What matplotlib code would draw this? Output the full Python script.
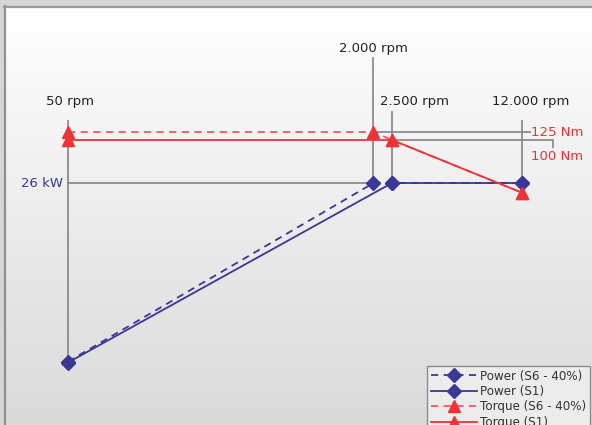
import matplotlib
matplotlib.use("Agg")
import matplotlib.pyplot as plt
import numpy as np

# ---- data ----
rpm_s6 = [50, 2000, 2500, 12000]
power_s6 = [0.65, 26, 26, 26]          # kW
torque_s6 = [125, 125, 100, 23]        # Nm
rpm_s1 = [50, 2500, 12000]
power_s1 = [0.52, 26, 26]              # kW
torque_s1 = [100, 100, 23]             # Nm
rpm_marks = [50, 2000, 2500, 12000]
rpm_labels = ["50 rpm", "2.000 rpm", "2.500 rpm", "12.000 rpm"]
legend_labels = ["Power (S6 - 40%)", "Power (S1)", "Torque (S6 - 40%)", "Torque (S1)"]
power_ref = 26
torque_refs = [125, 100]

NAVY = "#383896"
RED = "#ee3236"
RED_L = "#f05a5e"
GREY = "#8c8c8c"
FONT = "DejaVu Sans"

W, H = 592, 425
fig = plt.figure(figsize=(W / 100, H / 100), dpi=100, facecolor="#d6d6d6")

# background panel (decoration)
bg = fig.add_axes([0, 0, 1, 1], zorder=-5)
bg.set_xlim(0, W); bg.set_ylim(H, 0); bg.axis("off")
grad = np.linspace(1.0, 0.855, 256)[:, None]
bg.imshow(np.dstack([grad, grad, grad]), extent=[5, W, H, 7], aspect="auto",
          interpolation="bicubic")
bg.plot([4.5, 4.5], [6, H], color="#8f8f8f", lw=1.6)
bg.plot([4, W], [6.5, 6.5], color="#9a9a9a", lw=1.6)
bg.set_xlim(0, W); bg.set_ylim(H, 0)

ax = fig.add_axes([0, 0, 1, 1])
ax.set_facecolor("none")
ax.set_xscale("log")
ax.set_xlim(22.0, 27990)
ax.set_ylim(-8.34, 51.97)
ax.axis("off")

ax2 = ax.twinx()
ax2.set_yscale("log")
ax2.set_ylim(0.0351, 4977)
ax2.axis("off")

def fx(f):
    return ax.transData.inverted().transform(ax.transAxes.transform((f, 0.5)))[0]

def fy(f):
    return ax.transData.inverted().transform(ax.transAxes.transform((0.5, f)))[1]

def fy2(f):
    return ax2.transData.inverted().transform(ax2.transAxes.transform((0.5, f)))[1]

# vertical reference lines
tops = [0.715, 0.864, 0.736, 0.715]
bottoms = [power_s6[0], power_ref, power_ref, power_ref]
for r, b, t in zip(rpm_marks, bottoms, tops):
    ax.plot([r, r], [b, fy(t)], color=GREY, lw=1.3, zorder=1)

label_x = [70 / W, 373 / W, 415 / W, 531 / W]
label_y = [0.762, 0.887, 0.762, 0.762]
for txt, x, y in zip(rpm_labels, label_x, label_y):
    ax.text(x, y, txt, transform=ax.transAxes, ha="center", va="center",
            fontsize=9.5, color="#222222", family=FONT)

# horizontal reference lines
ax.plot([rpm_marks[0], rpm_marks[1]], [power_ref, power_ref], color=GREY, lw=1.3, zorder=1)
ax.text(63 / W, power_ref, "26 kW", transform=ax.get_yaxis_transform(), ha="right",
        va="center", fontsize=9.5, color=NAVY, family=FONT)

ax2.plot([rpm_marks[1], fx(530 / W)], [torque_refs[0]] * 2, color=GREY, lw=1.3, zorder=1)
ax2.text(531 / W, torque_refs[0], "125 Nm", transform=ax2.get_yaxis_transform(),
         ha="left", va="center", fontsize=9.5, color=RED, family=FONT)
x100 = fx(553 / W)
ax2.plot([rpm_marks[2], x100, x100], [torque_refs[1], torque_refs[1], fy2((H - 147) / H)],
         color=GREY, lw=1.3, zorder=1)
ax2.text(531 / W, (H - 157) / H, "100 Nm", transform=ax2.transAxes,
         ha="left", va="center", fontsize=9.5, color=RED, family=FONT)

# data series
h3, = ax2.plot(rpm_s6, torque_s6, color=RED_L, lw=1.3, ls=(0, (4, 3)),
               marker="^", ms=9, mfc=RED, mec=RED, zorder=3)
h4, = ax2.plot(rpm_s1, torque_s1, color=RED, lw=1.3,
               marker="^", ms=9, mfc=RED, mec=RED, zorder=3)
h1, = ax.plot(rpm_s6, power_s6, color=NAVY, lw=1.3, ls=(0, (4, 3)),
              marker="D", ms=7.5, mfc=NAVY, mec=NAVY, zorder=4)
h2, = ax.plot(rpm_s1, power_s1, color=NAVY, lw=1.3,
              marker="D", ms=7.5, mfc=NAVY, mec=NAVY, zorder=4)

leg = fig.legend([h1, h2, h3, h4], legend_labels, loc="upper left",
                 bbox_to_anchor=(427 / W, 1 - 366 / H), frameon=True, fancybox=False,
                 prop={"family": FONT, "size": 8.6}, handlelength=3.9, labelspacing=0.2,
                 borderpad=0.3, handletextpad=0.25, borderaxespad=0)
leg.get_frame().set_facecolor("#ececec")
leg.get_frame().set_edgecolor("#8c8c8c")
leg.get_frame().set_linewidth(1.0)
leg.get_frame().set_alpha(1)
for t in leg.get_texts():
    t.set_color("#333333")

fig.savefig("out.png", dpi=100, facecolor=fig.get_facecolor())
